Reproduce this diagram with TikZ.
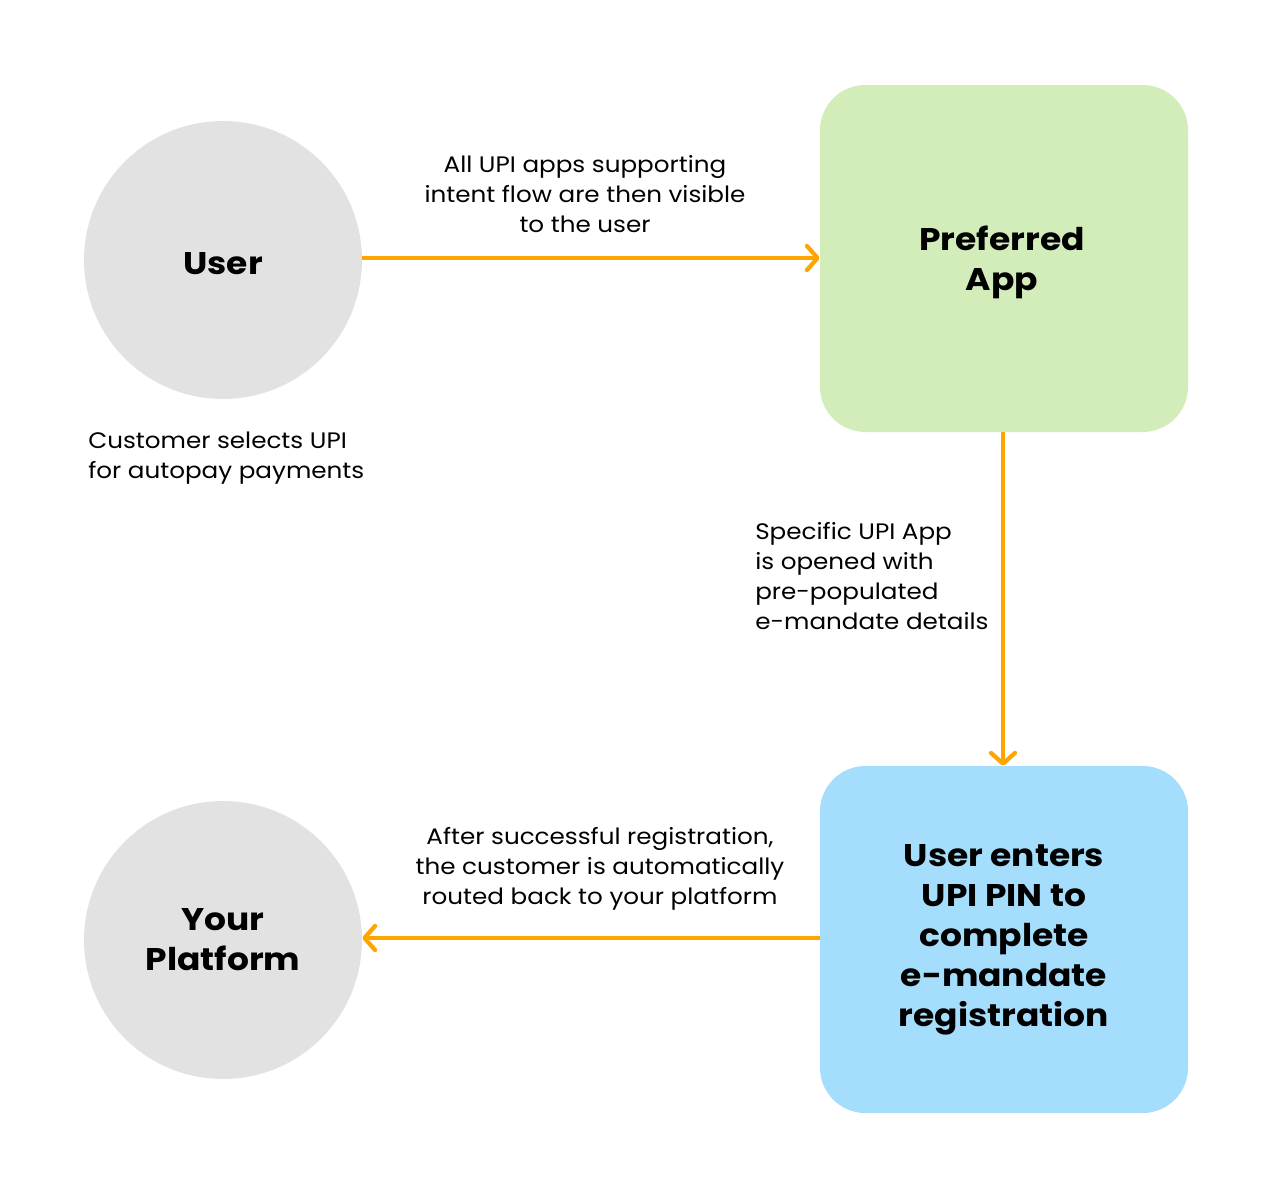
\documentclass[tikz,border=0pt]{standalone}
\usepackage{fontspec}
\setmainfont{Poppins}[FakeStretch=1.1]
\usetikzlibrary{arrows.meta}
\definecolor{circgray}{HTML}{E2E2E2}
\definecolor{appgreen}{HTML}{D2EDBA}
\definecolor{pinblue}{HTML}{A5DDFC}
\definecolor{arrorange}{HTML}{FFA500}
\tikzset{
  circ/.style={circle, fill=circgray, minimum size=278*0.75pt, inner sep=0pt, font=\fontsize{23.5}{30}\selectfont\bfseries, align=center},
  rbox/.style={rounded corners=34pt, minimum width=368*0.75pt, minimum height=347*0.75pt, inner sep=0pt, font=\fontsize{23.5}{30}\selectfont\bfseries, align=center},
  lbl/.style={font=\fontsize{16.8}{22.5}\selectfont, inner sep=0pt},
  flow/.style={draw=arrorange, line width=3.2pt, -{Straight Barb[length=8pt, width=18pt, line width=3.2pt, line cap=round, round]}}
}
\begin{document}
\begin{tikzpicture}[x=0.75pt, y=-0.75pt]
\useasboundingbox (0,0) rectangle (1280,1190);
\node[circ] (user) at (223,260) {};
\node[font=\fontsize{23.5}{30}\selectfont\bfseries] (usertxt) at (223,264) {User};
\node[circ] (plat) at (223,940) {Your\\Platform};
\node[rbox, fill=appgreen] (app) at (1004,258.5) {};
\node[font=\fontsize{23.5}{30}\selectfont\bfseries, align=center] (apptxt) at (1002,262) {Preferred\\App};
\node[rbox, fill=pinblue] (pin) at (1004,939.5) {User enters\\UPI PIN to\\complete\\e-mandate\\registration};
\draw[flow] (user.east |- 0,258) -- (app.west |- 0,258);
\draw[flow] (app.south -| 1003,0) -- (pin.north -| 1003,0);
\draw[flow] (pin.west |- 0,938) -- (plat.east |- 0,938);
\node[lbl, align=center] (l1) at (585,194) {All UPI apps supporting\\intent flow are then visible\\to the user};
\node[lbl, align=left, anchor=west] (l2) at (88,458) {Customer selects UPI\\for autopay payments};
\node[lbl, align=left, anchor=west] (l3) at (755,576) {Specific UPI App\\is opened with\\pre-populated\\e-mandate details};
\node[lbl, align=center] (l4) at (600,869) {After successful registration,\\the customer is automatically\\routed back to your platform};
\end{tikzpicture}
\end{document}
